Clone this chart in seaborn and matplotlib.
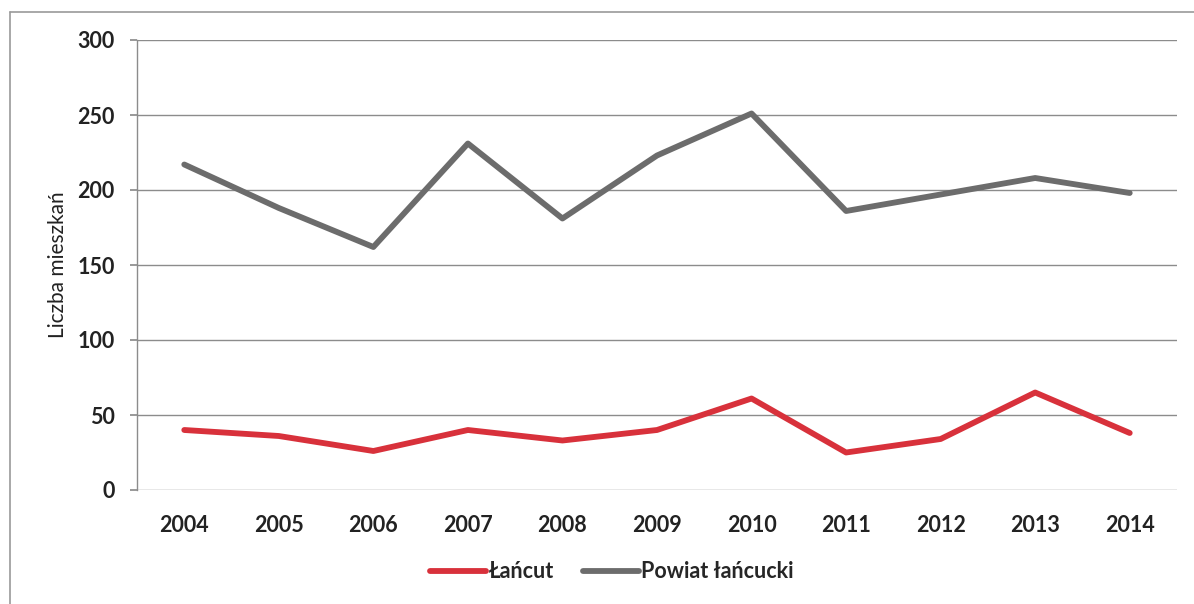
import matplotlib
matplotlib.use("Agg")
import matplotlib.pyplot as plt
import seaborn as sns
import pandas as pd
from matplotlib.lines import Line2D

years = [2004, 2005, 2006, 2007, 2008, 2009, 2010, 2011, 2012, 2013, 2014]
lancut = [40, 36, 26, 40, 33, 40, 61, 25, 34, 65, 38]
powiat = [217, 188, 162, 231, 181, 223, 251, 186, 197, 208, 198]
series_names = ["Łańcut", "Powiat łańcucki"]
colors = ["#d8313b", "#6c6c6c"]
y_ticks = [0, 50, 100, 150, 200, 250, 300]

sns.set_theme(style="white")
plt.rcParams['font.family'] = ['Lato', 'DejaVu Sans']

df = pd.DataFrame({
    "Rok": years * 2,
    "Wartość": lancut + powiat,
    "Seria": [series_names[0]] * len(years) + [series_names[1]] * len(years),
})

fig = plt.figure(figsize=(11.94, 6.04), dpi=100)
ax = fig.add_axes([137 / 1194, 1 - 490 / 604, 1040 / 1194, 450 / 604])

sns.lineplot(data=df, x="Rok", y="Wartość", hue="Seria", hue_order=series_names,
             palette=colors, linewidth=4.2, ax=ax, legend=False, sort=False)

ax.set_xlim(years[0] - 0.5, years[-1] + 0.5)
ax.set_ylim(0, 300)
ax.set_yticks(y_ticks)
ax.set_xticks(years)
ax.set_xticklabels([str(y) for y in years], fontsize=15.5, fontweight="bold", color="#222222")
ax.set_yticklabels([str(v) for v in y_ticks], fontsize=15.5, fontweight="bold", color="#222222")
ax.set_xlabel("")
ax.set_ylabel("Liczba mieszkań", fontsize=15, color="#222222", labelpad=7)

ax.grid(axis="y", color="#8c8c8c", linewidth=1.0)
ax.set_axisbelow(True)
for s in ["top", "right", "bottom"]:
    ax.spines[s].set_visible(False)
ax.spines["left"].set_color("#8c8c8c")
ax.spines["left"].set_linewidth(1.0)
ax.tick_params(axis="y", which="major", left=True, length=5, color="#8c8c8c", pad=11)
ax.tick_params(axis="x", which="major", bottom=False, pad=12)

handles = [Line2D([0], [0], color=c, linewidth=4.2) for c in colors]
fig.legend(handles, series_names, loc="center", bbox_to_anchor=(612 / 1194, 1 - 572 / 604),
           ncol=2, frameon=False, handlelength=2.6, handletextpad=0.1, columnspacing=1.35,
           prop={"size": 15.5, "weight": "bold"})

# outer frame (left and top edges visible)
fig.add_artist(Line2D([10 / 1194, 10 / 1194], [0, 1 - 12 / 604], transform=fig.transFigure,
                      color="#9a9a9a", linewidth=1.2))
fig.add_artist(Line2D([10 / 1194, 1], [1 - 12 / 604, 1 - 12 / 604], transform=fig.transFigure,
                      color="#9a9a9a", linewidth=1.2))

fig.savefig("out.png", dpi=100, facecolor="white")
